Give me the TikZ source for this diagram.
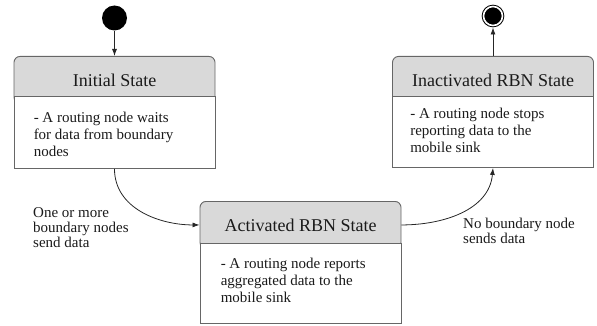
\documentclass[tikz,border=0pt]{standalone}
\usepackage{fontspec}
\setmainfont{Liberation Serif}
\usetikzlibrary{arrows.meta,positioning}
\usepackage{xcolor}
\definecolor{headgray}{HTML}{D9D9D9}
\definecolor{linegray}{HTML}{666666}
\definecolor{inkgray}{HTML}{1A1A1A}

\begin{document}
\begin{tikzpicture}[x=1pt,y=-1pt,
	head/.style={draw=linegray,fill=headgray,rounded corners=6pt,line width=0.9pt,minimum width=201pt,inner sep=0pt,text height=30pt,text depth=17pt,anchor=north,font=\fontsize{18}{20}\selectfont,text=inkgray},
	body/.style={draw=linegray,fill=white,line width=0.9pt,minimum width=201pt,inner sep=0pt,anchor=north},
	bodytext/.style={align=left,inner sep=0pt,font=\fontsize{15}{16.7}\selectfont,text=inkgray},
	note/.style={align=left,inner sep=0pt,anchor=north west,font=\fontsize{15}{15}\selectfont,text=inkgray},
	trans/.style={draw=black!85,line width=0.8pt,-{Latex[length=7pt,width=5pt]}}]
				
				\useasboundingbox (0,0) rectangle (597,326);
				
				% Initial State
				\node[head] (initHead) at (114.5,56) {Initial State};
				\node[body,minimum height=72pt] (initBody) at ([yshift=-40pt]initHead.north) {};
				\node[bodytext,below right=16pt and 20pt of initBody.north west] (initText) {
					- A routing node waits\\
					for data from boundary\\
					nodes
				};
				
				% Activated RBN State
				\node[head] (actHead) at (300.5,201) {Activated RBN State};
				\node[body,minimum height=80pt] (actBody) at ([yshift=-42pt]actHead.north) {};
				\node[bodytext,below right=15pt and 21pt of actBody.north west] (actText) {
					- A routing node reports\\
					aggregated data to the\\
					mobile sink
				};
				
				% Inactivated RBN State
				\node[head] (inactHead) at (493,56) {Inactivated RBN State};
				\node[body,minimum height=71pt] (inactBody) at ([yshift=-40pt]inactHead.north) {};
				\node[bodytext,below right=12pt and 18pt of inactBody.north west] (inactText) {
					- A routing node stops\\
					reporting data to the\\
					mobile sink
				};
				
				% Start and end
				\node[circle,fill=black,minimum size=25pt,inner sep=0pt] (start) at (114.5,18) {};
				\node[circle,draw=black,fill=black,double=white,double distance=1.6pt,line width=1pt,minimum size=19pt,inner sep=0pt] (stop) at (493,16) {};
				
				% Transitions
				\draw[trans] (start) -- (initHead.north);
				\draw[trans] (initBody.south) to[out=-90,in=180] (actHead.west);
				\draw[trans] (actHead.east) to[out=0,in=-95] (inactBody.south);
				\draw[trans,shorten >=1.5pt] (inactHead.north) -- (stop);
				
				% Guards
				\node[note] (sendLbl) at (33,207) {One or more\\boundary nodes\\send data};
				\node[note] (quietLbl) at (463,218) {No boundary node\\sends data};
				
			\end{tikzpicture}
\end{document}
